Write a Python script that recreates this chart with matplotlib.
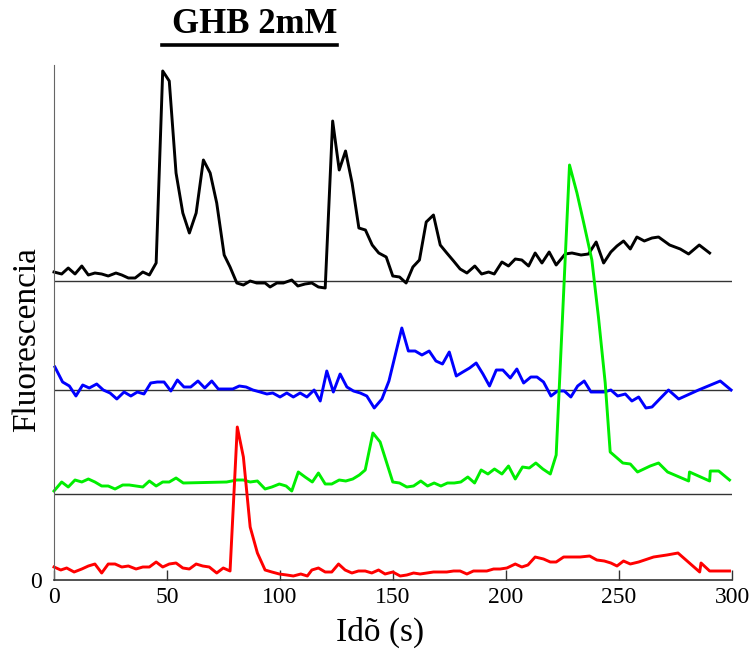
import matplotlib
matplotlib.use("Agg")
import matplotlib.pyplot as plt

plt.rcParams['font.family'] = ['Liberation Serif', 'DejaVu Serif']

# time (s) and fluorescence (a.u., relative to each trace's baseline)
black_t = [0, 3.4, 6.3, 9.3, 12.3, 15.2, 18.1, 21.1, 24.0, 27.4, 30.0, 32.9, 35.9, 39.3, 42.2, 45.2,
           48.1, 51.0, 54.0, 57.0, 59.9, 62.9, 66.1, 69.1, 72.0, 75.3, 77.9, 80.9, 83.8, 86.8, 89.7,
           93.4, 95.6, 98.6, 101.5, 105.2, 107.9, 111.1, 114.1, 117.0, 120.0, 123.3, 126.2, 129.0,
           131.9, 134.9, 137.8, 140.8, 143.7, 147.0, 149.9, 152.9, 155.8, 158.8, 161.7, 164.7, 167.9,
           170.9, 173.8, 176.8, 179.7, 182.7, 186.2, 189.2, 192.3, 194.8, 198.2, 201.1, 204.1, 207.0,
           210.0, 212.9, 215.9, 219.1, 222.2, 226.2, 229.2, 233.2, 236.5, 239.9, 243.2, 246.4, 249.1,
           252.0, 255.0, 257.9, 261.2, 264.6, 267.5, 272.4, 277.1, 280.8, 285.5, 290.1]
black_v = [9, 7, 13, 7, 15, 6, 8, 7, 5, 8, 6, 3, 3, 9, 6, 18,
           210, 200, 108, 68, 48, 68, 121, 108, 78, 26, 14, -2, -4, 0, -2,
           -2, -6, -2, -2, 1, -5, -3, -2, -6, -7, 160, 111, 130,
           98, 53, 51, 36, 28, 24, 5, 4, -2, 14, 21, 59, 66,
           36, 28, 20, 12, 8, 15, 7, 9, 7, 19, 15, 22, 21,
           15, 28, 18, 29, 16, 27, 28, 26, 27, 39, 18, 29, 35,
           40, 32, 44, 40, 43, 44, 36, 32, 27, 36, 28]

blue_t = [0.4, 3.8, 6.8, 9.7, 12.7, 15.6, 18.9, 21.8, 24.8, 27.8, 31.0, 34.0, 36.9, 39.8, 42.8,
          45.7, 48.7, 51.7, 54.6, 57.5, 60.5, 63.7, 66.7, 69.8, 72.7, 75.7, 79.1, 82.0, 85.0, 88.0,
          91.2, 94.2, 96.8, 100.0, 103.0, 105.9, 108.9, 111.9, 115.1, 117.8, 120.7, 123.6, 126.6,
          129.6, 132.5, 135.5, 138.4, 141.7, 145.1, 148.2, 153.9, 156.8, 159.8, 162.8, 166.0, 169.0,
          171.9, 174.9, 178.0, 180.9, 183.9, 186.8, 189.8, 192.7, 195.7, 198.6, 201.9, 204.8, 207.8,
          211.0, 213.7, 216.6, 219.9, 222.8, 225.8, 228.7, 231.7, 234.6, 237.6, 240.5, 243.5, 246.4,
          249.4, 252.8, 255.7, 258.7, 261.9, 264.6, 268.0, 271.9, 276.4, 285.2, 294.8, 299.6]
blue_v = [23, 8, 4, -6, 5, 2, 6, 0, -3, -9, -2, -6, -2, -4, 7,
          8, 8, -1, 10, 3, 3, 9, 2, 9, 1, 1, 1, 4, 3, 0,
          -2, -4, -3, -7, -3, -7, -3, -7, 0, -11, 19, -2, 16,
          3, -1, -3, -6, -18, -9, 9, 62, 39, 39, 35, 39, 29,
          26, 38, 14, 18, 22, 27, 16, 4, 20, 20, 12, 21, 7,
          13, 13, 8, -6, -1, -1, -7, 4, 9, -2, -2, -2, 0,
          -6, -4, -11, -7, -18, -17, -9, 0, -9, 0, 9, 0]

green_t = [0, 3.4, 6.3, 9.3, 12.3, 15.2, 18.1, 21.1, 24.0, 27.0, 30.4, 33.3, 36.3, 39.3, 42.2, 45.2,
           48.1, 51.0, 54.0, 57.2, 76.4, 80.9, 83.8, 86.8, 90.0, 93.4, 96.4, 99.7, 102.7, 105.2,
           108.1, 111.1, 114.3, 117.0, 120.0, 122.9, 126.2, 129.1, 132.2, 135.1, 137.7, 141.1, 144.3,
           149.9, 152.9, 156.1, 159.1, 162.3, 165.3, 168.2, 171.2, 174.1, 177.1, 180.0, 183.1, 186.1,
           189.0, 192.0, 194.9, 198.2, 201.1, 204.1, 207.3, 210.3, 213.2, 216.3, 219.6, 222.2, 228.1,
           231.4, 234.3, 238.0, 240.9, 243.9, 246.1, 251.7, 255.0, 258.2, 263.8, 267.5, 271.5, 280.8,
           281.2, 290.1, 290.4, 294.1, 298.9]
green_v = [3, 12, 7, 14, 12, 15, 12, 8, 8, 5, 9, 9, 8, 7, 13, 8,
           12, 12, 16, 11, 12, 14, 14, 12, 13, 5, 7, 10, 8, 3,
           22, 17, 12, 21, 10, 10, 14, 13, 15, 19, 24, 61, 52,
           12, 11, 7, 8, 13, 8, 11, 8, 11, 11, 12, 17, 11,
           24, 20, 25, 20, 28, 15, 27, 26, 31, 25, 20, 39, 329,
           301, 272, 234, 177, 111, 42, 31, 30, 22, 28, 31, 22, 13,
           22, 13, 23, 23, 14]

red_t = [0, 3.0, 5.6, 8.9, 12.3, 15.2, 18.1, 21.1, 24.0, 27.0, 30.0, 32.9, 36.3, 39.3, 42.2, 45.2,
         48.1, 51.0, 54.0, 57.0, 59.9, 62.9, 65.8, 68.7, 72.0, 74.9, 77.9, 81.1, 83.8, 86.8, 90.0,
         93.4, 96.4, 99.7, 103.0, 105.9, 109.2, 112.1, 114.1, 117.0, 120.0, 122.9, 125.9, 128.8,
         131.8, 134.7, 137.7, 140.6, 143.6, 146.5, 149.9, 153.2, 156.1, 159.1, 162.0, 165.0, 167.9,
         170.9, 173.8, 176.8, 179.7, 182.7, 185.6, 188.6, 191.5, 194.5, 197.4, 200.4, 204.1, 207.0,
         209.7, 212.9, 216.6, 219.6, 222.2, 225.5, 229.2, 232.8, 237.0, 240.2, 243.5, 246.4, 249.1,
         252.0, 255.0, 258.7, 265.3, 271.2, 276.1, 285.7, 286.3, 290.1, 298.9]
red_v = [13, 10, 12, 8, 11, 14, 16, 7, 16, 16, 13, 14, 11, 13, 13, 18,
         13, 16, 17, 12, 11, 16, 14, 13, 7, 12, 9, 153, 123, 53, 27,
         10, 8, 6, 5, 4, 6, 4, 10, 12, 8, 8, 16, 10,
         7, 9, 9, 7, 10, 6, 8, 4, 5, 7, 6, 7, 8,
         8, 8, 9, 9, 6, 9, 9, 9, 11, 11, 12, 16, 13,
         15, 23, 21, 18, 18, 23, 23, 23, 24, 20, 19, 17, 14,
         19, 16, 18, 23, 25, 27, 8, 17, 9, 9]

# vertical offsets of the stacked traces
offsets = {'black': 299, 'blue': 190, 'lime': 86, 'red': 0}
ghb_start, ghb_end = 48, 125

fig = plt.figure(figsize=(7.56, 6.5), dpi=100)
ax = fig.add_axes([54 / 756, 70 / 650, 678 / 756, 515 / 650])

ax.hlines([offsets['black'], offsets['blue'], offsets['lime']], 0, 300, color='#333333', lw=1)

traces = [('black', black_t, black_v), ('blue', blue_t, blue_v),
          ('lime', green_t, green_v), ('red', red_t, red_v)]
for col, t, v in traces:
    color = {'black': '#000000', 'blue': '#0000ff', 'lime': '#00ee00', 'red': '#ff0000'}[col]
    ax.plot(t, [y + offsets[col] for y in v], color=color, lw=2.1, clip_on=False)

ax.set_xlim(0, 300)
ax.set_ylim(0, 515)
ax.spines['top'].set_visible(False)
ax.spines['right'].set_visible(False)
ax.spines['left'].set_color('#666666')
ax.spines['bottom'].set_color('#333333')
ax.spines['bottom'].set_linewidth(1.2)

ax.set_xticks([0, 50, 100, 150, 200, 250, 300])
ax.tick_params(axis='x', direction='in', length=7, width=1, color='#333333',
               labelsize=17, pad=5)
ax.set_yticks([0])
ax.tick_params(axis='y', length=0, labelsize=17, pad=9)

# stimulus bar
ax.plot([ghb_start, ghb_end], [535, 535], color='black', lw=2.6, clip_on=False)
ax.text(88.8, 547, 'GHB 2mM', ha='center', va='baseline', fontsize=25,
        fontweight='bold', clip_on=False)

fig.text(27 / 756, 1 - 340 / 650, 'Fluorescencia', rotation=90, ha='center', va='center',
         fontsize=24)
fig.text(380 / 756, 1 - 632 / 650, 'Idõ (s)', ha='center', va='center', fontsize=24)

fig.savefig('out.png', dpi=100)
